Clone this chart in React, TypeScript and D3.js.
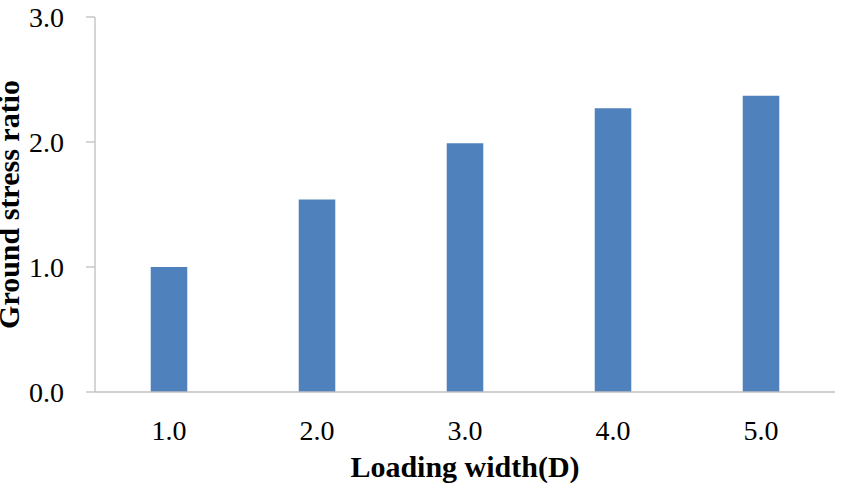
import React, { useEffect, useRef } from "react";
import * as d3 from "d3";

const categories = ["1.0", "2.0", "3.0", "4.0", "5.0"];
const values = [1.0, 1.54, 1.99, 2.27, 2.37];
const yTicks = [0, 1, 2, 3];

const App = () => {
  const ref = useRef<SVGSVGElement>(null);

  useEffect(() => {
    const width = 843;
    const height = 484;
    const margin = { top: 17, right: 8, bottom: 92, left: 95 };

    const svg = d3.select(ref.current).attr("width", width).attr("height", height);
    svg.selectAll("*").remove();

    const x = d3.scaleBand()
      .domain(categories)
      .range([margin.left, width - margin.right])
      .paddingInner(0.753)
      .paddingOuter(0.3765);

    const y = d3.scaleLinear()
      .domain([0, 3])
      .range([height - margin.bottom, margin.top]);

    const font = "'Liberation Serif', 'Times New Roman', serif";
    const axisColor = "#BFBFBF";

    // y axis line + ticks
    svg.append("line")
      .attr("x1", margin.left).attr("x2", margin.left)
      .attr("y1", y(3)).attr("y2", y(0))
      .attr("stroke", axisColor).attr("stroke-width", 1.3);

    svg.selectAll(".ytick")
      .data(yTicks)
      .enter()
      .append("line")
      .attr("x1", margin.left - 9).attr("x2", margin.left)
      .attr("y1", d => y(d)).attr("y2", d => y(d))
      .attr("stroke", axisColor).attr("stroke-width", 1.3);

    svg.selectAll(".ylabel")
      .data(yTicks)
      .enter()
      .append("text")
      .attr("x", 64)
      .attr("y", d => y(d))
      .attr("dy", "0.35em")
      .attr("text-anchor", "end")
      .attr("font-family", font)
      .attr("font-size", 28)
      .attr("fill", "#000")
      .text(d => d.toFixed(1));

    // bars
    svg.selectAll("rect")
      .data(values)
      .enter()
      .append("rect")
      .attr("x", (_, i) => x(categories[i]))
      .attr("y", d => y(d))
      .attr("width", x.bandwidth())
      .attr("height", d => y(0) - y(d))
      .attr("fill", "#4F81BD");

    // x axis line
    svg.append("line")
      .attr("x1", margin.left).attr("x2", width - margin.right)
      .attr("y1", y(0)).attr("y2", y(0))
      .attr("stroke", axisColor).attr("stroke-width", 1.3);

    svg.selectAll(".xlabel")
      .data(categories)
      .enter()
      .append("text")
      .attr("x", d => x(d) + x.bandwidth() / 2)
      .attr("y", 440)
      .attr("text-anchor", "middle")
      .attr("font-family", font)
      .attr("font-size", 28)
      .attr("fill", "#000")
      .text(d => d);

    svg.append("text")
      .attr("x", (margin.left + width - margin.right) / 2)
      .attr("y", 477)
      .attr("text-anchor", "middle")
      .attr("font-family", font)
      .attr("font-size", 30)
      .attr("font-weight", "bold")
      .text("Loading width(D)");

    svg.append("text")
      .attr("transform", `translate(19, ${(y(0) + y(3)) / 2}) rotate(-90)`)
      .attr("text-anchor", "middle")
      .attr("font-family", font)
      .attr("font-size", 30)
      .attr("font-weight", "bold")
      .text("Ground stress ratio");
  }, []);

  return <svg ref={ref} style={{ position: "absolute", left: 0, top: 0 }}></svg>;
};

export default App;
